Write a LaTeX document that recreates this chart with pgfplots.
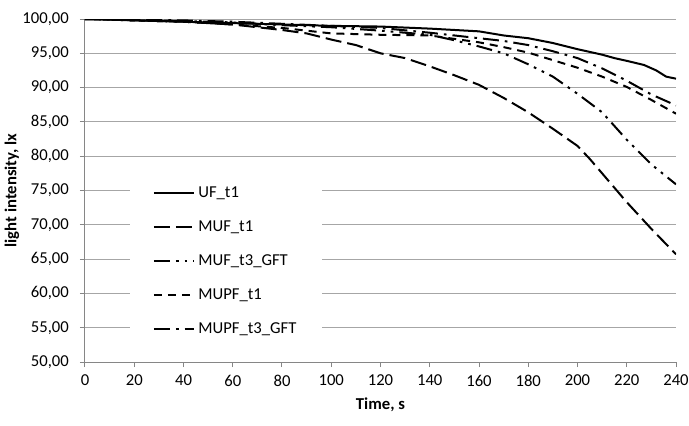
\documentclass[border=0pt]{standalone}
\usepackage{fontspec}
\setmainfont{Carlito}
\usepackage{pgfplots}
\pgfplotsset{compat=1.18}
\definecolor{gridgray}{RGB}{166,166,166}
\definecolor{axisgray}{RGB}{134,134,134}

\begin{document}
\fontsize{12.5}{15}\selectfont
\begin{tikzpicture}
\begin{axis}[
  name=ax,
  scale only axis,
  width=443.25pt, height=257.25pt,
  xmin=0, xmax=240, ymin=50, ymax=100,
  xtick={0,20,...,240}, ytick={50,55,...,100},
  axis x line=bottom, axis y line=left,
  axis line style={draw=axisgray, line width=0.75pt, -},
  major tick style={draw=axisgray, line width=0.75pt},
  tick align=outside, major tick length=3.75pt,
  ymajorgrids, grid style={draw=gridgray, line width=0.75pt},
  /pgf/number format/assume math mode=true,
  tick label style={font=\fontsize{12.5}{15}\selectfont},
  yticklabel style={/pgf/number format/fixed, /pgf/number format/fixed zerofill,
    /pgf/number format/precision=2, /pgf/number format/use comma, xshift=-4pt},
  scaled y ticks=false,
  xticklabel style={yshift=-1.5pt},
  xlabel={\textbf{Time, s}}, ylabel={\textbf{light intensity, lx}},
  label style={font=\fontsize{12.5}{15}\selectfont},
  xlabel style={at={(axis description cs:0.5,-0.1254)}, anchor=center},
  ylabel style={at={(axis description cs:-0.1235,0.5)}, anchor=center},
  legend cell align=left,
  legend image code/.code={\draw[#1] (0pt,0pt) -- (30pt,0pt);},
  legend style={at={(axis cs:18.3,76.6)}, anchor=north west, draw=none, fill=white,
    inner xsep=17pt, inner ysep=4pt, row sep=13.3pt,
    nodes={text height=9pt, text depth=3.2pt, inner sep=0pt, inner xsep=2.5pt},
    font=\fontsize{12.5}{15}\selectfont},
  every axis plot/.append style={line width=1.5pt, black},
]
% UF_t1
\addplot[solid] coordinates {
  (0,100) (20,99.8) (40,99.6) (60,99.4) (80,99.2) (100,99.0) (120,98.9)
  (140,98.6) (160,98.2) (170,97.6) (180,97.2) (190,96.5) (200,95.6)
  (210,94.8) (215,94.3) (220,93.9) (227,93.3) (232,92.5) (236,91.6) (240,91.3)};
\addlegendentry{UF\_t1}
% MUF_t1
\addplot[dash pattern=on 12pt off 4.5pt] coordinates {
  (0,100) (20,99.8) (40,99.6) (60,99.2) (80,98.4) (90,97.9) (100,97.0)
  (110,96.2) (120,95.0) (130,94.3) (140,93.1) (150,91.8) (160,90.4)
  (170,88.5) (180,86.4) (190,84.0) (200,81.5) (205,79.6) (210,77.5)
  (220,73.3) (230,69.4) (240,65.7)};
\addlegendentry{MUF\_t1}
% MUF_t3_GFT
\addplot[dash pattern=on 12pt off 4.5pt on 2pt off 4.5pt on 2pt off 4.5pt] coordinates {
  (0,100) (20,99.9) (40,99.7) (60,99.5) (80,99.1) (100,98.8) (120,98.3)
  (140,97.7) (150,96.9) (160,96.0) (170,95.0) (180,93.4) (190,91.6)
  (200,89.1) (210,86.4) (220,82.4) (230,78.8) (240,75.9)};
\addlegendentry{MUF\_t3\_GFT}
% MUPF_t1
\addplot[dash pattern=on 6pt off 4.5pt] coordinates {
  (0,100) (20,99.8) (40,99.6) (60,99.2) (80,98.7) (90,98.3) (100,97.9)
  (120,97.7) (140,97.6) (150,97.1) (160,96.6) (170,95.9) (180,95.1)
  (190,94.0) (200,92.9) (210,91.6) (220,90.1) (230,88.2) (240,86.2)};
\addlegendentry{MUPF\_t1}
% MUPF_t3_GFT
\addplot[dash pattern=on 12pt off 4.5pt on 2pt off 4.5pt] coordinates {
  (0,100) (20,99.9) (40,99.8) (60,99.6) (80,99.3) (100,99.0) (120,98.7)
  (140,98.0) (160,97.2) (170,96.8) (180,96.2) (190,95.3) (200,94.3)
  (210,92.8) (220,91.0) (230,89.0) (240,87.4)};
\addlegendentry{MUPF\_t3\_GFT}
\end{axis}
\pgfresetboundingbox
\path ([xshift=-63.75pt,yshift=-47.25pt]ax.south west) rectangle ([xshift=9.75pt,yshift=14.25pt]ax.north east);
\end{tikzpicture}
\end{document}
